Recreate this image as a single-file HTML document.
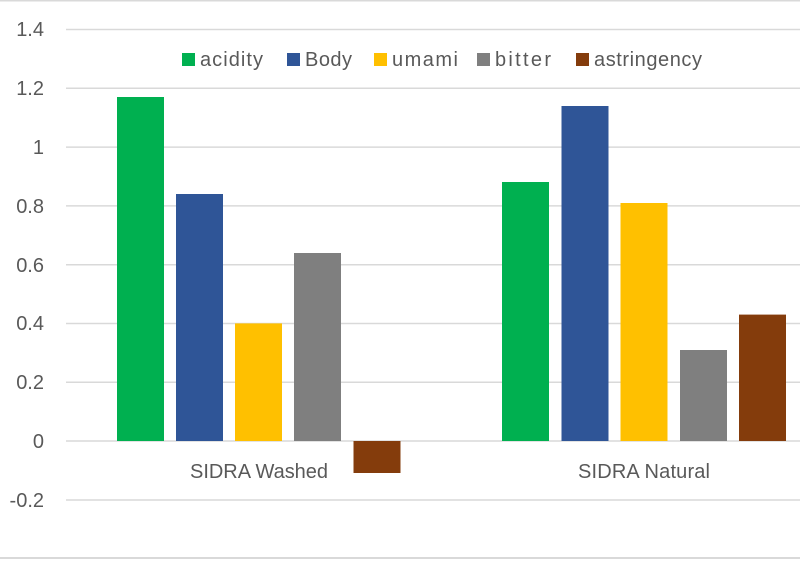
<!DOCTYPE html>
<html><head><style>
body{margin:0;background:#fff}
svg text{font-family:"Liberation Sans",sans-serif;fill:#595959}
</style></head><body>
<svg width="800" height="560" xmlns="http://www.w3.org/2000/svg">
<rect x="0" y="0" width="800" height="560" fill="#fff"/>
<line x1="0" y1="0.5" x2="800" y2="0.5" stroke="#d9d9d9" stroke-width="2"/>
<line x1="0" y1="558" x2="800" y2="558" stroke="#d9d9d9" stroke-width="2"/>
<g stroke="#d9d9d9" stroke-width="1.5">
<line x1="66" x2="800" y1="29.5" y2="29.5"/>
<line x1="66" x2="800" y1="88.3" y2="88.3"/>
<line x1="66" x2="800" y1="147.1" y2="147.1"/>
<line x1="66" x2="800" y1="205.9" y2="205.9"/>
<line x1="66" x2="800" y1="264.7" y2="264.7"/>
<line x1="66" x2="800" y1="323.5" y2="323.5"/>
<line x1="66" x2="800" y1="382.3" y2="382.3"/>
<line x1="66" x2="800" y1="441" y2="441"/>
<line x1="66" x2="800" y1="500" y2="500"/>
</g>
<g font-size="20" text-anchor="end">
<text x="44" y="36">1.4</text>
<text x="44" y="95">1.2</text>
<text x="44" y="154">1</text>
<text x="44" y="213">0.8</text>
<text x="44" y="272">0.6</text>
<text x="44" y="330">0.4</text>
<text x="44" y="389">0.2</text>
<text x="44" y="448">0</text>
<text x="44" y="507">-0.2</text>
</g>
<rect x="117" y="97" width="47" height="344" fill="#00b050"/>
<rect x="176" y="194" width="47" height="247" fill="#2f5597"/>
<rect x="235" y="323.4" width="47" height="117.6" fill="#ffc000"/>
<rect x="294" y="253" width="47" height="188" fill="#7f7f7f"/>
<rect x="353.5" y="441" width="47" height="32" fill="#843c0c"/>
<rect x="502" y="182" width="47" height="259" fill="#00b050"/>
<rect x="561.5" y="106" width="47" height="335" fill="#2f5597"/>
<rect x="620.5" y="203" width="47" height="238" fill="#ffc000"/>
<rect x="680" y="350" width="47" height="91" fill="#7f7f7f"/>
<rect x="739" y="314.6" width="47" height="126.4" fill="#843c0c"/>
<g font-size="20">
<text x="190" y="478" textLength="138">SIDRA Washed</text>
<text x="578" y="478" textLength="132">SIDRA Natural</text>
</g>
<g font-size="20">
<rect x="182" y="53" width="13" height="13" fill="#00b050"/><text x="200" y="66" textLength="63">acidity</text>
<rect x="287" y="53" width="13" height="13" fill="#2f5597"/><text x="305" y="66" textLength="47">Body</text>
<rect x="374" y="53" width="13" height="13" fill="#ffc000"/><text x="392" y="66" textLength="66">umami</text>
<rect x="477" y="53" width="13" height="13" fill="#7f7f7f"/><text x="495" y="66" textLength="56">bitter</text>
<rect x="576" y="53" width="13" height="13" fill="#843c0c"/><text x="594" y="66" textLength="108">astringency</text>
</g>
</svg>
</body></html>
